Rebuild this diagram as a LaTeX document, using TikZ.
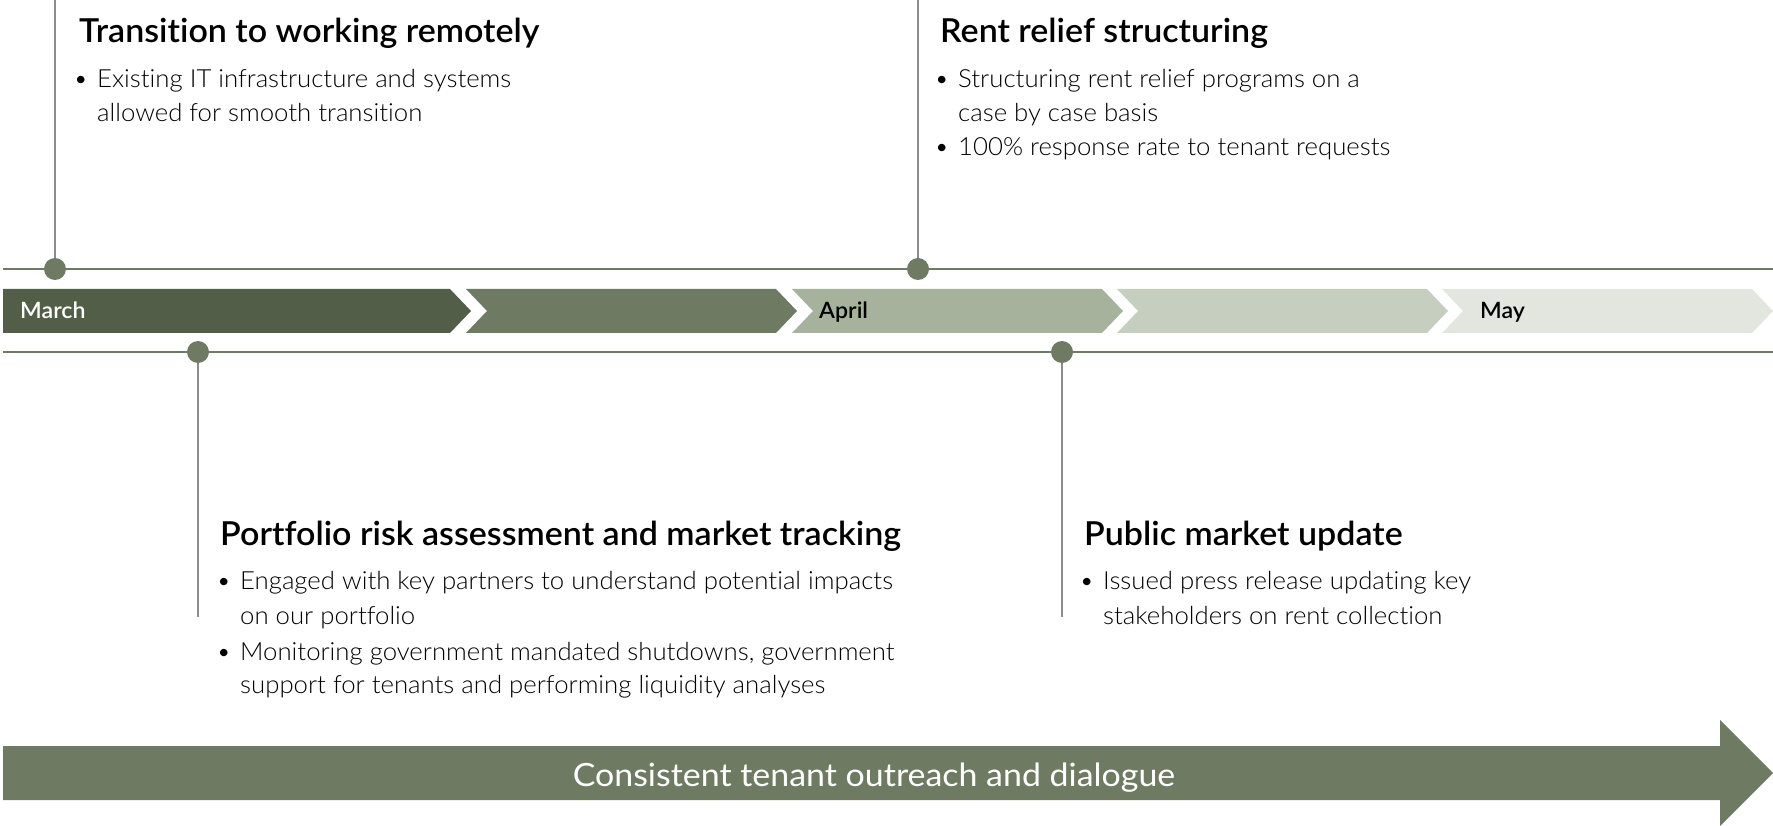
\documentclass[tikz,border=0pt]{standalone}
\usepackage{fontspec}
\setmainfont{Lato}[Ligatures=NoCommon]
\newfontfamily\lightfont{Lato Light}[FakeStretch=1.03,Ligatures=NoCommon]
\newfontfamily\headfont{Lato Semibold}[FakeStretch=1.03,Ligatures=NoCommon]
\newfontfamily\barfont{Lato}[FakeStretch=1.06,Ligatures=NoCommon]

\definecolor{darkolive}{HTML}{525E48}
\definecolor{olive}{HTML}{6E7B62}
\definecolor{sage}{HTML}{A7B29C}
\definecolor{pale}{HTML}{C5CEBF}
\definecolor{mist}{HTML}{E3E6DF}
\definecolor{stemgray}{HTML}{8C8C8C}

\begin{document}
\begin{tikzpicture}[x=1pt,y=-1pt,
  title/.style={anchor=base west,inner sep=0pt,font=\headfont\fontsize{33}{38}\selectfont},
  body/.style={anchor=base west,inner sep=0pt,font=\lightfont\fontsize{25}{30}\selectfont},
  month/.style={anchor=base west,inner sep=0pt,font=\headfont\fontsize{22.5}{26}\selectfont},
  stem/.style={draw=stemgray,line width=2.5pt},
  rule/.style={draw=olive,line width=1.5pt}]

\useasboundingbox (0,0) rectangle (1773,826);

%Months band

\begin{scope}
\coordinate (ra) at (3,269);
\coordinate (rb) at (1773,269);
\coordinate (rc) at (3,352);
\coordinate (rd) at (1773,352);

\draw[rule] (ra) -- (rb);
\draw[rule] (rc) -- (rd);

\fill[darkolive] (3,289) -- (450,289) -- (471,311) -- (450,333) -- (3,333) -- cycle;
\foreach \s/\c in {466/olive,792/sage,1117/pale,1442/mist}
  \fill[\c] (\s,289) -- +(310,0) -- +(331,22) -- +(310,44) -- +(0,44) -- +(21,22) -- cycle;

\node[month,white] (march) at (20,319) {March};
\node[month] (april) at (819,319) {April};
\node[month] (may) at (1480,319) {May};
\end{scope}

%Events above the band

\begin{scope}
\coordinate (p1) at (55,0);
\coordinate (d1) at (55,269);
\coordinate (p2) at (918,0);
\coordinate (d2) at (918,269);

\draw[stem] (p1) -- (d1);
\draw[stem] (p2) -- (d2);
\fill[olive] (d1) circle (11pt);
\fill[olive] (d2) circle (11pt);

\node[title] (remote) at (79,43) {Transition to working remotely};
\node[body] (remote1) at (97,88) {\llap{\textbullet\hspace{9pt}}Existing IT infrastructure and systems};
\node[body] (remote2) at (97,122) {allowed for smooth transition};

\node[title] (rent) at (940,43) {Rent relief structuring};
\node[body] (rent1) at (958,88) {\llap{\textbullet\hspace{9pt}}Structuring rent relief programs on a};
\node[body] (rent2) at (958,122) {case by case basis};
\node[body] (rent3) at (958,156) {\llap{\textbullet\hspace{9pt}}100\% response rate to tenant requests};
\end{scope}

%Events below the band

\begin{scope}
\coordinate (d3) at (198,352);
\coordinate (p3) at (198,617);
\coordinate (d4) at (1062,352);
\coordinate (p4) at (1062,617);

\draw[stem] (d3) -- (p3);
\draw[stem] (d4) -- (p4);
\fill[olive] (d3) circle (11pt);
\fill[olive] (d4) circle (11pt);

\node[title] (risk) at (220,545) {Portfolio risk assessment and market tracking};
\node[body] (risk1) at (240,589) {\llap{\textbullet\hspace{9pt}}Engaged with key partners to understand potential impacts};
\node[body] (risk2) at (240,624) {on our portfolio};
\node[body] (risk3) at (240,660) {\llap{\textbullet\hspace{9pt}}Monitoring government mandated shutdowns, government};
\node[body] (risk4) at (240,693) {support for tenants and performing liquidity analyses};

\node[title] (update) at (1084,545) {Public market update};
\node[body] (update1) at (1103,589) {\llap{\textbullet\hspace{9pt}}Issued press release updating key};
\node[body] (update2) at (1103,624) {stakeholders on rent collection};
\end{scope}

%Outreach arrow

\fill[olive] (3,746) -- (1720,746) -- (1720,720) -- (1773,773) -- (1720,826) -- (1720,800) -- (3,800) -- cycle;
\node[anchor=base,inner sep=0pt,white,font=\barfont\fontsize{32}{36}\selectfont] (outreach) at (874,786) {Consistent tenant outreach and dialogue};

\end{tikzpicture}
\end{document}
